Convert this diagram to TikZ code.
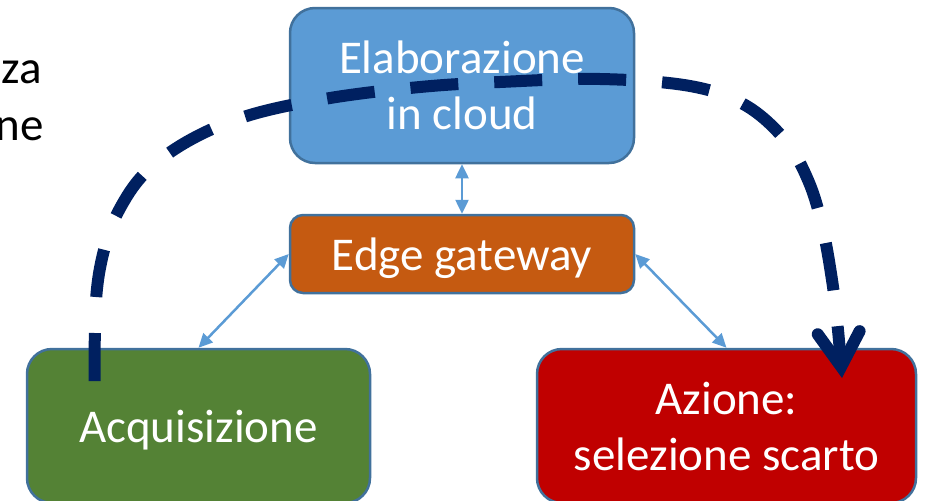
\documentclass[tikz,border=0pt]{standalone}
\usepackage{fontspec}
\setmainfont{Carlito}
\usetikzlibrary{arrows.meta}

\definecolor{cloudblue}{HTML}{5B9BD5}
\definecolor{edgeorange}{HTML}{C55A11}
\definecolor{acqgreen}{HTML}{548235}
\definecolor{actred}{HTML}{C00000}
\definecolor{boxline}{HTML}{41719C}
\definecolor{flowblue}{HTML}{002060}
\definecolor{linkblue}{HTML}{5B9BD5}

\tikzset{
  x=1pt, y=-1pt,
  box/.style={draw=boxline, line width=2.5pt, rounded corners=25pt,
    text=white, align=center, inner sep=0pt,
    font=\fontsize{47}{56}\selectfont},
  smallbox/.style={box, rounded corners=13pt},
  link/.style={draw=linkblue, line width=2.5pt,
    {Triangle[length=14pt,width=13pt]}-{Triangle[length=14pt,width=13pt]}},
  flow/.style={draw=flowblue, line width=12pt, dash pattern=on 48pt off 36pt,
    -{Straight Barb[length=34pt,width=42pt,line cap=round,line join=miter]}},
  sidetext/.style={inner sep=0pt, text=black, font=\fontsize{47}{56}\selectfont}
}

\begin{document}
\begin{tikzpicture}
\useasboundingbox (0,0) rectangle (930,501);

% side text
\node[sidetext, anchor=base east] (za) at (42,83) {za};
\node[sidetext, anchor=base east] (ne) at (44,140) {ne};

% boxes
\node[box, fill=cloudblue, minimum width=344pt, minimum height=155pt]
  (cloud) at (462,85.5) {Elaborazione\\in cloud};
\node[smallbox, fill=edgeorange, minimum width=344pt, minimum height=78pt,
  text depth=0pt] (edge) at (462,254) {Edge gateway};
\node[box, fill=acqgreen, minimum width=343pt, minimum height=154pt,
  text depth=0pt] (acq) at (198.5,426) {Acquisizione};
\node[box, fill=actred, minimum width=379pt, minimum height=154pt]
  (act) at (726.5,426) {Azione:\\selezione scarto};

% links between the boxes
\draw[link] (cloud.south) -- (edge.north);
\draw[link] (edge.west) -- (acq.north);
\draw[link] (edge.east) -- (act.north);

% data flow from acquisition to action
\coordinate (fstart) at (94.5,381);
\coordinate (fend) at (842,378);
\draw[flow] plot[smooth, tension=0.6] coordinates {(fstart) (96,300) (104,250)
  (118,212) (145,173) (190,140) (250,115) (330,98) (420,87) (500,82) (600,79)
  (690,86) (745,105) (785,140) (808,180) (822,225) (832,280) (838,330) (fend)};
\end{tikzpicture}
\end{document}
